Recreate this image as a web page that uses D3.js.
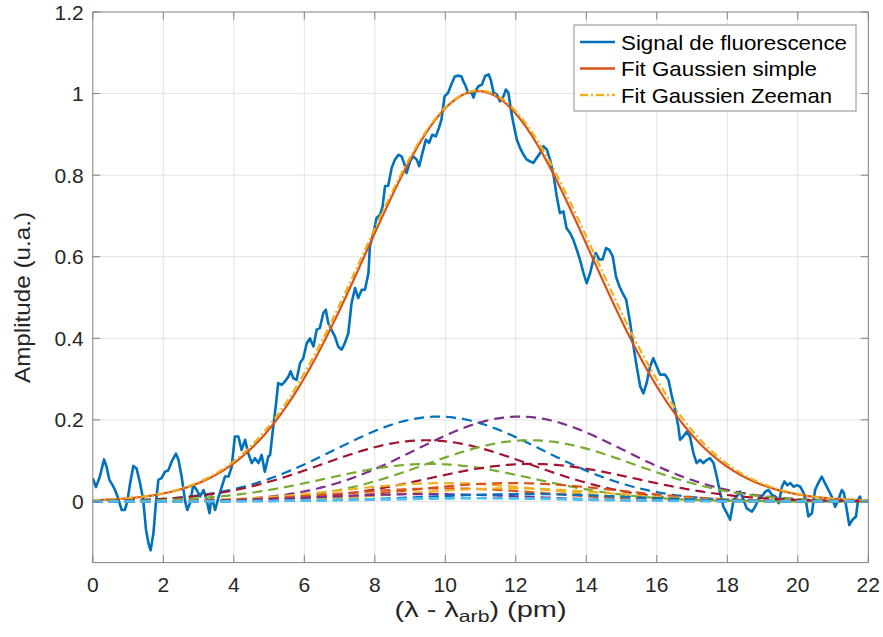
<!DOCTYPE html>
<html><head><meta charset="utf-8">
<script src="https://cdn.jsdelivr.net/npm/d3@7"></script>
<style>
html,body{margin:0;padding:0;background:#fff;}
svg{display:block;font-family:"Liberation Sans",Arial,Helvetica,sans-serif;}
</style></head>
<body><svg id="chart" width="883" height="637"></svg>
<script>
// ---- data ----
const signalX = [0,0.09,0.2,0.32,0.39,0.47,0.56,0.63,0.7,0.82,0.91,0.98,1.06,1.15,1.24,1.34,1.43,1.51,1.58,1.64,1.72,1.79,1.86,1.95,2.05,2.14,2.24,2.36,2.43,2.52,2.62,2.68,2.76,2.85,2.95,3.04,3.14,3.23,3.31,3.37,3.47,3.56,3.66,3.75,3.85,3.94,4.03,4.13,4.22,4.32,4.41,4.51,4.6,4.7,4.79,4.88,4.98,5.03,5.12,5.2,5.26,5.36,5.45,5.55,5.61,5.69,5.78,5.88,5.97,6.07,6.16,6.26,6.35,6.44,6.54,6.61,6.68,6.77,6.87,6.96,7.06,7.15,7.25,7.34,7.44,7.53,7.63,7.72,7.82,7.86,7.96,8.05,8.15,8.22,8.29,8.38,8.48,8.57,8.67,8.76,8.86,8.9,9.0,9.09,9.19,9.26,9.35,9.45,9.54,9.63,9.73,9.82,9.89,9.98,10.08,10.17,10.27,10.36,10.46,10.51,10.56,10.65,10.75,10.8,10.85,10.94,11.04,11.13,11.23,11.29,11.37,11.46,11.55,11.65,11.72,11.79,11.86,11.93,12.03,12.12,12.22,12.31,12.4,12.5,12.59,12.69,12.78,12.88,12.97,13.07,13.16,13.25,13.35,13.44,13.54,13.63,13.73,13.82,13.92,14.01,14.11,14.2,14.27,14.37,14.46,14.56,14.65,14.75,14.84,14.94,15.03,15.13,15.24,15.34,15.43,15.53,15.62,15.71,15.81,15.9,16.0,16.09,16.23,16.33,16.42,16.52,16.61,16.66,16.75,16.85,16.94,17.04,17.13,17.23,17.32,17.42,17.51,17.61,17.7,17.8,17.89,17.99,18.08,18.18,18.27,18.36,18.46,18.55,18.7,18.79,18.89,18.98,19.08,19.17,19.27,19.36,19.46,19.55,19.62,19.7,19.79,19.88,19.98,20.07,20.17,20.24,20.3,20.4,20.49,20.58,20.68,20.77,20.87,20.96,21.06,21.15,21.25,21.31,21.39,21.46,21.55,21.65,21.71,21.76,21.81];
const signalY = [0.057,0.035,0.061,0.103,0.085,0.053,0.04,0.028,0.012,-0.021,-0.021,0,0.045,0.087,0.081,0.045,0.004,-0.07,-0.103,-0.12,-0.078,-0.004,0.053,0.057,0.073,0.076,0.098,0.117,0.102,0.061,0,-0.021,-0.004,0.04,0.028,0.012,0.028,0.004,-0.029,0.012,-0.021,0.008,0.036,0.061,0.061,0.085,0.159,0.159,0.126,0.151,0.118,0.094,0.106,0.094,0.114,0.073,0.11,0.114,0.184,0.241,0.29,0.286,0.294,0.306,0.319,0.302,0.298,0.339,0.351,0.388,0.4,0.38,0.421,0.425,0.462,0.47,0.437,0.421,0.404,0.38,0.372,0.388,0.413,0.486,0.523,0.499,0.519,0.519,0.56,0.625,0.658,0.695,0.703,0.723,0.773,0.774,0.818,0.838,0.85,0.846,0.822,0.805,0.834,0.846,0.838,0.822,0.854,0.887,0.879,0.899,0.895,0.916,0.936,0.993,1.002,1.022,1.042,1.044,1.042,1.03,1.022,1.002,1.002,0.99,1.006,1.018,1.022,1.043,1.047,1.034,1.002,0.998,0.981,0.993,1.01,1.002,0.961,0.928,0.887,0.867,0.85,0.838,0.834,0.83,0.842,0.854,0.871,0.863,0.838,0.801,0.748,0.707,0.711,0.67,0.658,0.642,0.617,0.593,0.56,0.535,0.56,0.593,0.609,0.593,0.593,0.621,0.617,0.601,0.552,0.527,0.511,0.495,0.44,0.38,0.331,0.282,0.265,0.29,0.331,0.351,0.331,0.311,0.311,0.298,0.261,0.225,0.184,0.151,0.159,0.171,0.159,0.118,0.094,0.102,0.094,0.102,0.106,0.094,0.061,0.02,-0.013,-0.029,-0.045,0.004,0.012,0.024,0.004,-0.017,-0.025,-0.013,0.008,0.012,0.024,0.028,0.016,0.012,-0.004,0.036,0.049,0.04,0.045,0.036,0.04,0.036,0.02,-0.004,-0.037,-0.029,0.028,0.045,0.061,0.045,0.028,0.012,-0.013,0.004,0.028,0.02,-0.021,-0.058,-0.045,-0.037,0.004,0.012,0];

// single Gaussian fit parameters (amplitude, centre, width)
const simpleFitParams = [1.006, 10.93, 3.18];

// Zeeman components: centres, amplitudes, colours; common width
const compCenters = [9.8, 12.1, 9.45, 12.4, 9.55, 12.45, 10.0, 11.9, 10.0, 11.8, 9.5, 12.3, 10.3, 11.6];
const compAmps    = [0.208, 0.208, 0.15, 0.15, 0.092, 0.092, 0.045, 0.045, 0.032, 0.032, 0.018, 0.018, 0.008, 0.008];
const compColors  = ["#0072BD","#7E2F8E","#A2142F","#77AC30","#77AC30","#A2142F","#EDB120","#D95319","#D95319","#EDB120","#7E2F8E","#0072BD","#4DBEEE","#4DBEEE"];
const compWidth = 2.95;

const xTicks = [0,2,4,6,8,10,12,14,16,18,20,22];
const yTicks = [0,0.2,0.4,0.6,0.8,1,1.2];
const legendLabels = ["Signal de fluorescence","Fit Gaussien simple","Fit Gaussien Zeeman"];

// ---- layout ----
const svg = d3.select("#chart");
const L = 92.8, R = 868.3, T = 12, B = 562.6;
const x = d3.scaleLinear().domain([0,22]).range([L,R]);
const y = d3.scaleLinear().domain([-0.15,1.2]).range([B,T]);
const FS = 21, LFS = 22.5;

const gauss = (A,m,s) => t => A*Math.exp(-((t-m)*(t-m))/(2*s*s));
const grid = d3.range(0, 22.0001, 0.05);

// grid
const gg = svg.append("g");
xTicks.forEach(v=>{ if(v>0 && v<22) gg.append("line").attr("x1",x(v)).attr("x2",x(v)).attr("y1",T).attr("y2",B).attr("stroke","#e3e3e3").attr("stroke-width",1); });
yTicks.forEach(v=>{ if(v<1.2) gg.append("line").attr("x1",L).attr("x2",R).attr("y1",y(v)).attr("y2",y(v)).attr("stroke","#e3e3e3").attr("stroke-width",1); });

svg.append("clipPath").attr("id","clip").append("rect").attr("x",L).attr("y",T).attr("width",R-L).attr("height",B-T);
const plot = svg.append("g").attr("clip-path","url(#clip)");
const line = d3.line().x(d=>x(d[0])).y(d=>y(d[1]));

// signal
plot.append("path").datum(signalX.map((v,i)=>[v,signalY[i]]))
  .attr("d",line).attr("fill","none").attr("stroke","#0072BD").attr("stroke-width",2.6).attr("stroke-linejoin","round");

// simple fit
const f1 = gauss(...simpleFitParams);
plot.append("path").datum(grid.map(t=>[t,f1(t)])).attr("d",line)
  .attr("fill","none").attr("stroke","#D95319").attr("stroke-width",2.2);

// Zeeman fit = sum of components
const comps = compCenters.map((c,i)=>gauss(compAmps[i],c,compWidth));
plot.append("path").datum(grid.map(t=>[t,d3.sum(comps,f=>f(t))])).attr("d",line)
  .attr("fill","none").attr("stroke","#EDB120").attr("stroke-width",2.2).attr("stroke-dasharray","8,3,2,3");

// components
comps.forEach((f,i)=>{
  plot.append("path").datum(grid.map(t=>[t,f(t)])).attr("d",line)
    .attr("fill","none").attr("stroke",compColors[i]).attr("stroke-width",2.2).attr("stroke-dasharray","10,6");
});

// axes box & ticks
const axc = "#808080";
svg.append("rect").attr("x",L).attr("y",T).attr("width",R-L).attr("height",B-T).attr("fill","none").attr("stroke",axc).attr("stroke-width",1);
const tl = 7.5;
xTicks.forEach(v=>{
  svg.append("line").attr("x1",x(v)).attr("x2",x(v)).attr("y1",B).attr("y2",B-tl).attr("stroke",axc);
  svg.append("line").attr("x1",x(v)).attr("x2",x(v)).attr("y1",T).attr("y2",T+tl).attr("stroke",axc);
  svg.append("text").attr("x",x(v)).attr("y",B+29.5).attr("text-anchor","middle").attr("font-size",FS).attr("fill","#262626").text(v);
});
yTicks.forEach(v=>{
  svg.append("line").attr("x1",L).attr("x2",L+tl).attr("y1",y(v)).attr("y2",y(v)).attr("stroke",axc);
  svg.append("line").attr("x1",R).attr("x2",R-tl).attr("y1",y(v)).attr("y2",y(v)).attr("stroke",axc);
  svg.append("text").attr("x",L-9).attr("y",y(v)).attr("dy","0.36em").attr("text-anchor","end").attr("font-size",FS).attr("fill","#262626").text(v);
});

// axis labels
const xl = svg.append("text").attr("x",(L+R)/2).attr("y",617).attr("text-anchor","middle").attr("font-size",LFS).attr("fill","#262626")
  .attr("textLength",172).attr("lengthAdjust","spacingAndGlyphs");
xl.append("tspan").text("(λ - λ");
xl.append("tspan").attr("font-size",16.5).attr("dy",5).text("arb");
xl.append("tspan").attr("dy",-5).text(") (pm)");
svg.append("text").attr("transform",`translate(30,297.5) rotate(-90)`).attr("text-anchor","middle").attr("font-size",LFS).attr("fill","#262626")
  .attr("textLength",171).attr("lengthAdjust","spacingAndGlyphs").text("Amplitude (u.a.)");

// legend
const lg = svg.append("g");
lg.append("rect").attr("x",574).attr("y",25).attr("width",282).attr("height",86).attr("fill","#fff").attr("stroke","#8c8c8c").attr("stroke-width",1);
const lstyles = [{c:"#0072BD",d:null},{c:"#D95319",d:null},{c:"#EDB120",d:"8,3,2,3"}];
const lgLen = [226,196,211];
legendLabels.forEach((t,i)=>{
  const yy = 42 + i*26.5;
  const ln = lg.append("line").attr("x1",580).attr("x2",615).attr("y1",yy).attr("y2",yy).attr("stroke",lstyles[i].c).attr("stroke-width",2.4);
  if(lstyles[i].d) ln.attr("stroke-dasharray",lstyles[i].d);
  lg.append("text").attr("x",621).attr("y",yy).attr("dy","0.36em").attr("font-size",FS).attr("fill","#000")
    .attr("textLength",lgLen[i]).attr("lengthAdjust","spacingAndGlyphs").text(t);
});
</script></body></html>
